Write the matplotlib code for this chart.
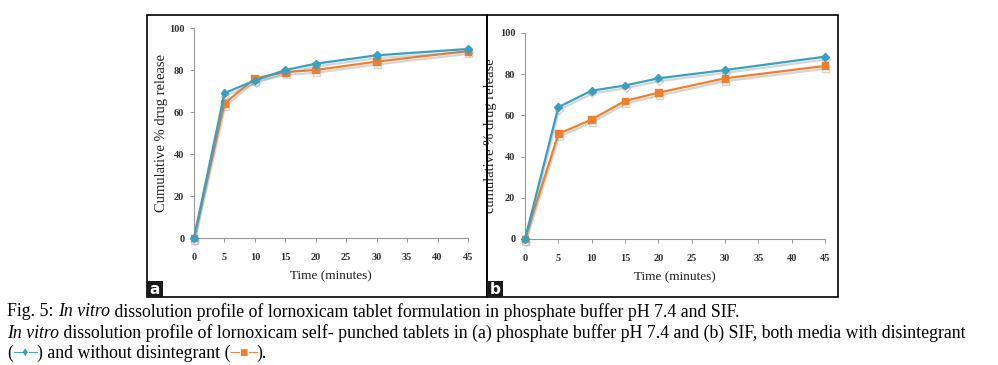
import matplotlib
matplotlib.use('Agg')
import matplotlib.pyplot as plt
import matplotlib.patheffects as pe
from matplotlib.patches import Rectangle

# ----------- DATA ------------
time_min = [0, 5, 10, 15, 20, 30, 45]
a_with = [0, 69, 75, 80, 83, 87, 90]       # phosphate buffer, with disintegrant
a_without = [0, 64, 76, 79, 80, 84, 89]    # phosphate buffer, without disintegrant
b_with = [0, 64, 72, 74.5, 78, 82, 88.5]   # SIF, with disintegrant
b_without = [0, 51, 58, 67, 71, 78, 84]    # SIF, without disintegrant
x_ticks = list(range(0, 50, 5))
y_ticks = list(range(0, 120, 20))
# -----------------------------

BLUE = '#3a9fc0'
ORANGE = '#ef7f2c'
W, H = 998, 365
SERIF = ['Liberation Serif', 'DejaVu Serif']

fig = plt.figure(figsize=(W / 100, H / 100), dpi=100)
fig.patch.set_facecolor('white')

shadow = [pe.SimpleLineShadow(offset=(0.5, -2), shadow_color='#888888', alpha=0.35),
          pe.Normal()]


def panel(rect, with_d, without_d, ylabel, ylab_x):
    ax = fig.add_axes(rect)
    ax.plot(time_min, with_d, color=BLUE, lw=1.6, marker='D', ms=4,
            clip_on=False, zorder=4, path_effects=shadow)
    ax.plot(time_min, without_d, color=ORANGE, lw=1.6, marker='s', ms=5,
            clip_on=False, zorder=3, path_effects=shadow)
    ax.set_xlim(0, 45)
    ax.set_ylim(0, 100)
    ax.set_xticks(x_ticks)
    ax.set_yticks(y_ticks)
    for s in ['top', 'right']:
        ax.spines[s].set_visible(False)
    for s in ['left', 'bottom']:
        ax.spines[s].set_color('#999999')
        ax.spines[s].set_linewidth(0.8)
    ax.tick_params(length=3, width=0.7, color='#999999', labelsize=7.5)
    ax.tick_params(axis='x', pad=8)
    ax.tick_params(axis='y', pad=4)
    for lab in ax.get_xticklabels() + ax.get_yticklabels():
        lab.set_family(SERIF)
        lab.set_fontweight('bold')
        lab.set_color('#333333')
    ax.set_xlabel('Time (minutes)', family=SERIF, fontsize=9.5, color='#222222', labelpad=6)
    ax.set_ylabel(ylabel, family=SERIF, fontsize=10.5, color='#222222')
    ax.yaxis.set_label_coords(ylab_x, 0.5)
    return ax


panel([194 / W, 1 - 238 / H, 274 / W, 210 / H], a_with, a_without,
      'Cumulative % drug release', -0.095)
panel([525 / W, 1 - 239 / H, 300 / W, 206 / H], b_with, b_without,
      'cumulative % drug release', -0.093)

# panel frames and letters
for x0, x1, letter in [(147, 487, 'a'), (487, 838, 'b')]:
    fig.patches.append(Rectangle((x0 / W, 1 - 297 / H), (x1 - x0) / W, 282 / H,
                                 transform=fig.transFigure, fill=False,
                                 edgecolor='black', lw=1.2))
    fig.patches.append(Rectangle((x0 / W, 1 - 297 / H), 16 / W, 16 / H,
                                 transform=fig.transFigure, facecolor='#1a1a1a',
                                 edgecolor='none'))
    fig.text((x0 + 8) / W, 1 - 289 / H, letter, color='white', fontsize=11,
             fontweight='bold', family='DejaVu Sans', ha='center', va='center')

# caption, drawn piece by piece
renderer = fig.canvas.get_renderer()


def runs(x, y, parts, size=12.8):
    for txt, kw in parts:
        opts = {'fontsize': size, 'va': 'center', 'family': SERIF + ['DejaVu Sans']}
        opts.update(kw)
        t = fig.text(x / W, 1 - y / H, txt, **opts)
        bb = t.get_window_extent(renderer)
        x = bb.x1


runs(7, 312, [('Fig. 5: ', {}), ('In vitro', {'style': 'italic'}),
              (' dissolution profile of lornoxicam tablet formulation in phosphate buffer pH 7.4 and SIF.', {})])
runs(7, 333, [('In vitro', {'style': 'italic'}),
              (' dissolution profile of lornoxicam self- punched tablets in (a) phosphate buffer pH 7.4 and (b) SIF, both media with disintegrant', {})])
runs(7, 353, [('(', {}), ('–', {'color': BLUE, 'fontweight': 'bold'}),
              ('♦', {'color': BLUE, 'fontsize': 9}),
              ('–', {'color': BLUE, 'fontweight': 'bold'}), (') and without disintegrant (', {}),
              ('–', {'color': ORANGE, 'fontweight': 'bold'}),
              ('■', {'color': ORANGE, 'fontsize': 10}),
              ('–', {'color': ORANGE, 'fontweight': 'bold'}), (').', {})])

fig.savefig('out.png', dpi=100)
